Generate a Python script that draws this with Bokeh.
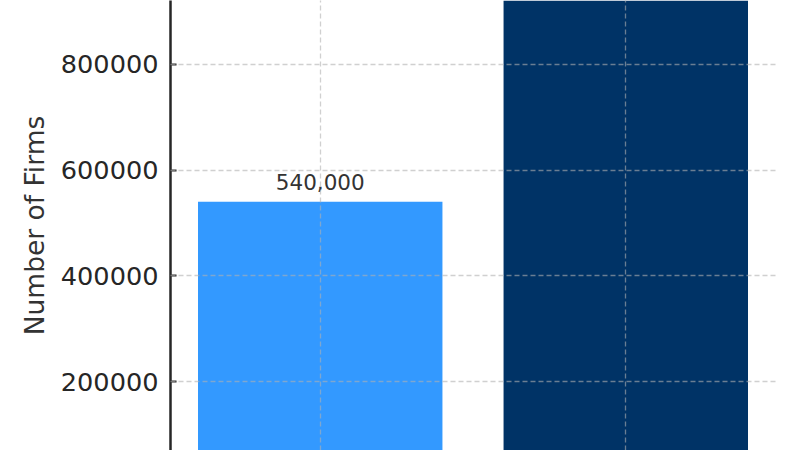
from bokeh.plotting import figure
from bokeh.models import ColumnDataSource, Range1d, Grid, FixedTicker, NumeralTickFormatter
from bokeh.core.properties import value
from bokeh.embed import file_html
from bokeh.resources import INLINE

# data
categories = ["Category 1", "Category 2"]
firms = [540000, 1100000]
bar_colors = ["#3399FF", "#003366"]
y_ticks = [200000, 400000, 600000, 800000]

Y_MIN, Y_MAX = 69420, 921130
xs = list(range(len(categories)))
# only the value labels that fall inside the visible range are shown
value_labels = [f"{v:,}" if v < Y_MAX * 0.95 else "" for v in firms]
src = ColumnDataSource(dict(x=xs, top=firms, color=bar_colors, label=value_labels, cat=categories))

FONT = "DejaVu Sans"

p = figure(width=800, height=450, output_backend="svg", toolbar_location=None,
           x_axis_type=None,
           x_range=Range1d(-0.49, 1.49), y_range=Range1d(Y_MIN, Y_MAX),
           min_border_left=170, min_border_right=25, min_border_top=0, min_border_bottom=0)
p.outline_line_color = None
p.background_fill_color = "white"
p.border_fill_color = "white"

p.vbar(x="x", top="top", bottom=0, width=0.8, color="color", line_color=None, source=src)

p.text(x="x", y="top", text="label", source=src, text_align="center", text_baseline="bottom",
       y_offset=-12, text_font=value(FONT), text_font_size="21.5px", text_color="#333333")

# grids drawn over bars
p.ygrid.ticker = FixedTicker(ticks=y_ticks)
p.ygrid.grid_line_color = "#b0b0b0"
p.ygrid.grid_line_alpha = 0.6
p.ygrid.grid_line_dash = "5 3"
p.ygrid.grid_line_width = 1.3
p.ygrid.level = "overlay"
xg = Grid(dimension=0, ticker=FixedTicker(ticks=xs), grid_line_color="#b0b0b0", grid_line_alpha=0.6,
          grid_line_dash="5 3", grid_line_width=1.3, level="overlay")
p.add_layout(xg)

ax = p.yaxis[0]
ax.ticker = FixedTicker(ticks=y_ticks)
ax.formatter = NumeralTickFormatter(format="0")
ax.axis_label = "Number of Firms"
ax.axis_label_text_font = FONT
ax.axis_label_text_font_size = "26.5px"
ax.axis_label_text_font_style = "normal"
ax.axis_label_text_color = "#333333"
ax.axis_label_standoff = 8
ax.major_label_text_font = FONT
ax.major_label_text_font_size = "25.6px"
ax.major_label_text_color = "#262626"
ax.major_label_standoff = 12
ax.major_tick_in = 6
ax.major_tick_out = 0
ax.minor_tick_line_color = None
ax.major_tick_line_width = 2
ax.major_tick_line_color = "#262626"
ax.axis_line_width = 2.5
ax.axis_line_color = "#262626"

open("out.html", "w").write(file_html(p, INLINE))
